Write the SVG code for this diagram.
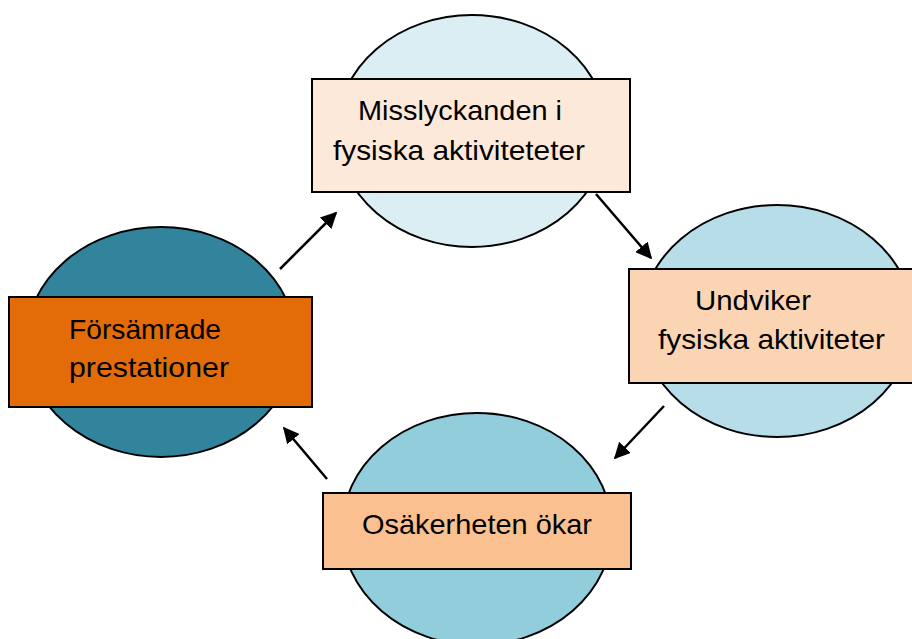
<svg xmlns="http://www.w3.org/2000/svg" width="912" height="639" viewBox="0 0 912 639">
  <style>
    .ell { stroke: #000; stroke-width: 2; }
    .box { stroke: #000; stroke-width: 2; }
    .lbl { font-family: "Liberation Sans", Arial, sans-serif; font-size: 28px; fill: #000; }
    .con { stroke: #000; stroke-width: 2.5; fill: none; marker-end: url(#ah); }
  </style>
  <defs>
    <marker id="ah" viewBox="0 0 10 10" refX="9" refY="5" markerWidth="6.5" markerHeight="6.5" markerUnits="strokeWidth" orient="auto">
      <path d="M0,0 L10,5 L0,10 z" fill="#000"/>
    </marker>
  </defs>
  <rect width="912" height="639" fill="#fff"/>

  <g id="node-top">
    <ellipse class="ell" cx="472" cy="131" rx="135" ry="116" fill="#DAEEF3"/>
    <rect class="box" x="312" y="79" width="318" height="113" fill="#FDE9D9"/>
    <text class="lbl" x="358" y="120" textLength="204" lengthAdjust="spacingAndGlyphs">Misslyckanden i</text>
    <text class="lbl" x="333" y="160" textLength="252" lengthAdjust="spacingAndGlyphs">fysiska aktiviteteter</text>
  </g>

  <g id="node-right">
    <ellipse class="ell" cx="777" cy="321" rx="136" ry="116" fill="#B7DDE8"/>
    <rect class="box" x="629" y="269" width="290" height="114" fill="#FBD4B4"/>
    <text class="lbl" x="695" y="310" textLength="116" lengthAdjust="spacingAndGlyphs">Undviker</text>
    <text class="lbl" x="658" y="349" textLength="227" lengthAdjust="spacingAndGlyphs">fysiska aktiviteter</text>
  </g>

  <g id="node-bottom">
    <ellipse class="ell" cx="477" cy="529" rx="135" ry="116" fill="#92CDDC"/>
    <rect class="box" x="323" y="493" width="308" height="76" fill="#FAC08F"/>
    <text class="lbl" x="362" y="534" textLength="230" lengthAdjust="spacingAndGlyphs">Osäkerheten ökar</text>
  </g>

  <g id="node-left">
    <ellipse class="ell" cx="161" cy="342" rx="135" ry="115" fill="#31849B"/>
    <rect class="box" x="9" y="297" width="303" height="110" fill="#E36C09"/>
    <text class="lbl" x="69" y="339" textLength="152" lengthAdjust="spacingAndGlyphs">Försämrade</text>
    <text class="lbl" x="69" y="377" textLength="160" lengthAdjust="spacingAndGlyphs">prestationer</text>
  </g>

  <g id="connectors">
    <line class="con" x1="280" y1="269" x2="336" y2="213"/>
    <line class="con" x1="596" y1="194" x2="651" y2="258"/>
    <line class="con" x1="664" y1="406" x2="615" y2="458"/>
    <line class="con" x1="327" y1="479" x2="284" y2="428"/>
  </g>
</svg>
